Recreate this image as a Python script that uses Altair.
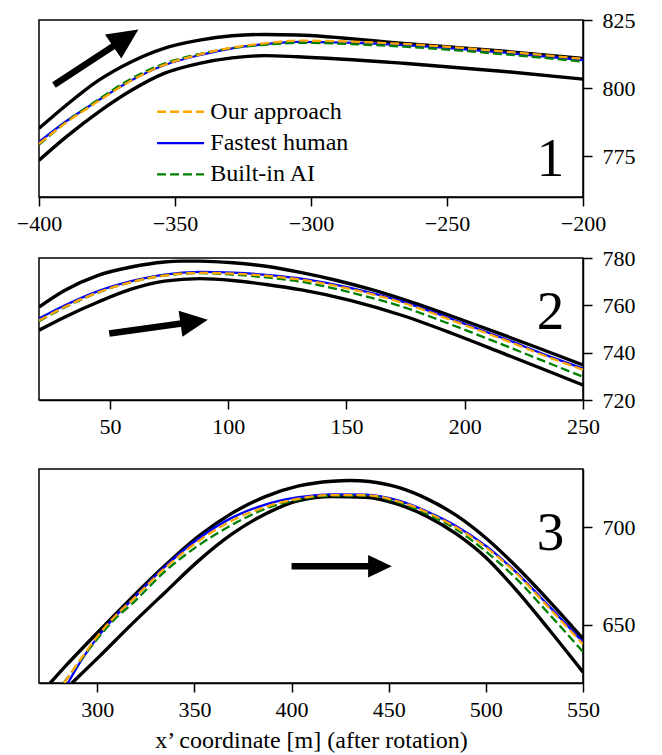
import altair as alt
import pandas as pd

FONT = "Liberation Serif"

# ---------------- data ----------------
# Panel 1
P1_X = [-400, -390, -378, -366, -354, -341, -329, -317, -305, -266, -230, -200]
P1_OUTER = [785.2, 793.7, 802.9, 809.7, 814.6, 817.6, 819.2, 819.7, 819.5, 816.4, 813.6, 810.9]
P1_INNER = [773.5, 782.1, 791.3, 799.2, 805.4, 809.1, 811.1, 811.9, 811.5, 809.1, 806.2, 803.3]
P1_HUMAN = [780.2, 787.8, 795.6, 802.9, 808.4, 812.1, 814.6, 816.1, 817.0, 815.8, 813.1, 810.3]
P1_OURS = [779.6, 787.3, 795.3, 802.8, 808.5, 812.3, 814.9, 816.4, 817.4, 816.2, 813.5, 810.7]
P1_AI = [779.2, 787.5, 795.9, 803.5, 809.0, 812.5, 814.7, 815.9, 816.6, 815.2, 812.5, 809.7]

# Panel 2
P2_X_OUTER = [20, 31, 45, 59, 73, 80, 88, 102, 116, 131, 146, 160, 174, 199, 216, 230, 250]
P2_OUTER = [759.3, 766.4, 772.7, 776.2, 778.3, 778.7, 778.7, 778.0, 776.5, 773.8, 770.5, 766.8, 762.5, 753.8, 747.6, 742.4, 734.8]
P2_X_INNER = [20, 31, 45, 59, 73, 88, 102, 116, 131, 152, 174, 195, 216, 237, 250]
P2_INNER = [749.5, 755.1, 761.4, 766.8, 770.2, 771.3, 770.5, 768.8, 766.5, 762.0, 755.6, 748.0, 739.8, 731.5, 726.3]
P2_X = [20, 31, 45, 59, 73, 88, 102, 116, 133, 152, 174, 195, 216, 237, 250]
P2_HUMAN = [754.4, 760.0, 766.0, 770.2, 773.0, 774.1, 773.8, 772.9, 771.0, 767.3, 761.5, 754.0, 746.2, 738.0, 733.3]
P2_OURS = [753.6, 759.4, 765.5, 769.8, 772.6, 773.7, 773.4, 772.5, 770.5, 766.8, 761.0, 753.5, 745.7, 737.5, 732.8]
P2_AI = [753.3, 759.2, 765.4, 769.8, 772.6, 773.6, 773.0, 771.8, 769.6, 765.4, 759.3, 751.6, 743.4, 735.0, 729.8]

# Panel 3
P3_X_OUTER = [275.8, 283.5, 300.7, 317.9, 335, 352.2, 369.4, 386.5, 403.7, 420.9, 430, 440, 455, 470, 485, 500, 515, 532.5, 550]
P3_OUTER = [620, 628.5, 646.5, 664, 680.5, 695.5, 707.3, 715.8, 721.3, 723.7, 724.1, 723.6, 720.5, 714.5, 706, 694.5, 680.5, 662.2, 642.7]
P3_X_INNER = [287, 300.7, 317.9, 335, 352.2, 369.4, 386.5, 403.7, 420.9, 438, 455, 470, 485, 500, 515, 532.5, 550]
P3_INNER = [620, 633.3, 650.4, 666.7, 682.9, 696.6, 706.9, 713.7, 715.8, 715.5, 711.8, 705.5, 696.5, 684.5, 668.5, 647.5, 625.6]
P3_X_HUMAN = [284.9, 292, 300.7, 309, 317.9, 335, 352.2, 369.4, 386.5, 403.7, 420.9, 438, 455.2, 470, 485, 500, 515, 532.5, 550]
P3_HUMAN = [620, 632, 644.2, 654, 662.8, 680, 694.3, 705, 711.7, 715.5, 717, 716.8, 713.7, 708, 700.5, 690.5, 677.5, 659.5, 641]
P3_X_OURS = [283, 292, 300.7, 309, 317.9, 335, 352.2, 369.4, 386.5, 403.7, 420.9, 438, 455.2, 470, 485, 500, 515, 532.5, 550]
P3_OURS = [620, 633, 644.8, 654.2, 662.6, 679.2, 693, 703.5, 710.5, 714.8, 716.6, 716.5, 713.3, 707.6, 699.8, 689.8, 677, 658.6, 640]
P3_X_AI = [282.7, 292, 300.7, 309, 317.9, 335, 352.2, 369.4, 386.5, 403.7, 420.9, 438, 455.2, 470, 485, 500, 515, 532.5, 550]
P3_AI = [620, 632.5, 643.5, 652.8, 660.7, 677.5, 690.8, 701.3, 709.5, 714.3, 716.3, 716.3, 712.8, 706.8, 698.8, 687.6, 674.3, 655.5, 636]

# Arrows: tail (x, y) and centre of the head (x, y), data coordinates
ARROW_TAIL = [(-394.5, 801.1), (49.7, 748.1), (400.0, 680.0)]
ARROW_HEAD = [(-368.1, 818.4), (85.6, 753.1), (445.5, 680.0)]

# Panel numbers and their anchor (right edge / baseline)
PANEL_LABELS = ["1", "2", "3"]
PANEL_LABEL_POS = [(-206.9, 767.6), (242.1, 749.8), (540.4, 688.4)]

# Legend
LEGEND_LABELS = ["Our approach", "Fastest human", "Built-in AI"]
LEGEND_KEYS = ["ours", "human", "ai"]
LEGEND_Y = [791.3, 779.8, 768.3]
LEGEND_SYM_X = (-356.6, -339.3)
LEGEND_TEXT_X = -337.0

# ---------------- styles ----------------
STYLE = {
    "outer": dict(color="black", strokeWidth=3.4),
    "inner": dict(color="black", strokeWidth=3.4),
    "human": dict(color="#0000FF", strokeWidth=2.3),
    "ai": dict(color="#008000", strokeWidth=2.3, strokeDash=[9, 4]),
    "ours": dict(color="#FFA500", strokeWidth=2.3, strokeDash=[9, 4]),
}
ARROW_STYLE = [dict(angle=325.8, size=930), dict(angle=351.6, size=760), dict(angle=0, size=560)]
HEAD_PATH = "M1,0L-1,-0.95L-1,0.95Z"

AX = dict(
    grid=False, labelFlush=False, labelFont=FONT, labelFontSize=22, labelColor="black",
    tickColor="black", tickWidth=1.5, tickSize=9, domainColor="black", domainWidth=1.5,
)


def panel(idx, xdom, ydom, xticks, yticks, w, h, curves, xtitle=None, legend=False):
    xaxis = dict(AX, values=xticks, labelPadding=7, title=None)
    if xtitle:
        xaxis.update(title=xtitle, titleFont=FONT, titleFontSize=24, titleFontWeight="normal",
                     titleColor="black", titlePadding=8)
    X = alt.X("x:Q", scale=alt.Scale(domain=xdom, nice=False, zero=False), axis=alt.Axis(**xaxis))
    Y = alt.Y("y:Q", scale=alt.Scale(domain=ydom, nice=False, zero=False),
              axis=alt.Axis(**dict(AX, values=yticks, orient="right", labelPadding=10, title=None)))
    layers = []
    for key, xs, ys in curves:
        df = pd.DataFrame({"x": xs, "y": ys})
        layers.append(alt.Chart(df).mark_line(clip=True, interpolate="monotone", **STYLE[key]).encode(x=X, y=Y))
    (tx, ty), (hx, hy) = ARROW_TAIL[idx], ARROW_HEAD[idx]
    adf = pd.DataFrame({"x": [tx], "y": [ty], "x2": [hx], "y2": [hy]})
    layers.append(alt.Chart(adf).mark_rule(color="black", strokeWidth=6.5).encode(
        x=X, y=Y, x2="x2:Q", y2="y2:Q"))
    hdf = pd.DataFrame({"x": [hx], "y": [hy]})
    layers.append(alt.Chart(hdf).mark_point(shape=HEAD_PATH, filled=True, color="black", opacity=1,
                                            strokeWidth=0, **ARROW_STYLE[idx]).encode(x=X, y=Y))
    lx, ly = PANEL_LABEL_POS[idx]
    ldf = pd.DataFrame({"x": [lx], "y": [ly], "t": [PANEL_LABELS[idx]]})
    layers.append(alt.Chart(ldf).mark_text(font=FONT, fontSize=55, align="right", baseline="alphabetic",
                                           color="black").encode(x=X, y=Y, text="t:N"))
    if legend:
        for key, lab, yy in zip(LEGEND_KEYS, LEGEND_LABELS, LEGEND_Y):
            st = dict(STYLE[key])
            sdf = pd.DataFrame({"x": [LEGEND_SYM_X[0]], "x2": [LEGEND_SYM_X[1]], "y": [yy]})
            layers.append(alt.Chart(sdf).mark_rule(**st).encode(x=X, x2="x2:Q", y=Y))
            tdf = pd.DataFrame({"x": [LEGEND_TEXT_X], "y": [yy], "t": [lab]})
            layers.append(alt.Chart(tdf).mark_text(font=FONT, fontSize=24, align="left", baseline="middle",
                                                   color="black").encode(x=X, y=Y, text="t:N"))
    return alt.layer(*layers).properties(width=w, height=h)


p1 = panel(0, [-400, -200], [760, 825], [-400, -350, -300, -250, -200], [775, 800, 825], 544, 177,
           [("outer", P1_X, P1_OUTER), ("inner", P1_X, P1_INNER), ("human", P1_X, P1_HUMAN),
            ("ai", P1_X, P1_AI), ("ours", P1_X, P1_OURS)], legend=True)
p2 = panel(1, [20, 250], [720, 780], [50, 100, 150, 200, 250], [720, 740, 760, 780], 544, 142,
           [("outer", P2_X_OUTER, P2_OUTER), ("inner", P2_X_INNER, P2_INNER), ("human", P2_X, P2_HUMAN),
            ("ai", P2_X, P2_AI), ("ours", P2_X, P2_OURS)])
p3 = panel(2, [270, 550], [620, 730], [300, 350, 400, 450, 500, 550], [650, 700], 544, 214,
           [("outer", P3_X_OUTER, P3_OUTER), ("inner", P3_X_INNER, P3_INNER),
            ("human", P3_X_HUMAN, P3_HUMAN), ("ai", P3_X_AI, P3_AI), ("ours", P3_X_OURS, P3_OURS)],
           xtitle="x\u2019 coordinate [m] (after rotation)")

chart = alt.vconcat(alt.vconcat(p1, p2, spacing=11), p3, spacing=30).properties(
    padding={"left": 7, "top": 0, "right": 5, "bottom": 0}
).configure_view(stroke="black", strokeWidth=1.5)

chart.save("out.html", embed_options={"renderer": "svg", "actions": False})
